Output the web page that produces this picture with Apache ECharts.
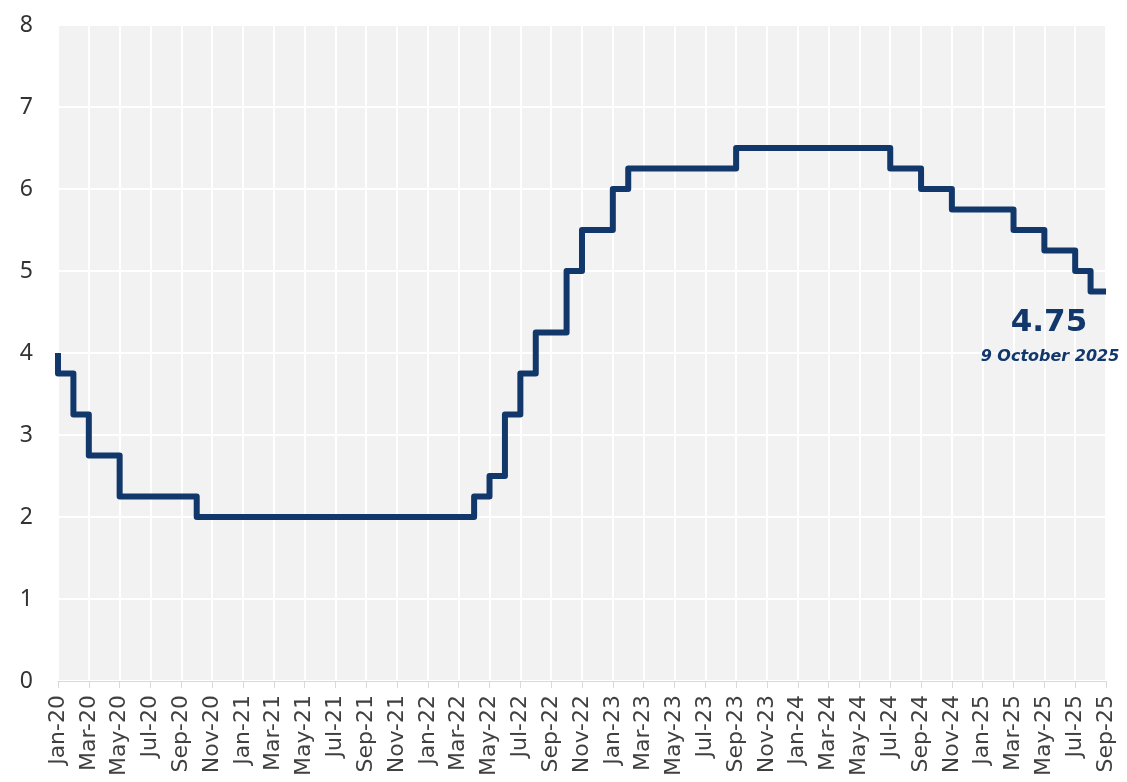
<!DOCTYPE html>
<html>
<head>
<meta charset="utf-8">
<script src="https://cdn.jsdelivr.net/npm/echarts@6/dist/echarts.min.js"></script>
<style>
html,body{margin:0;padding:0;background:#fff;}
#chart{width:1127px;height:782px;}
</style>
</head>
<body>
<div id="chart"></div>
<script>
// Monthly categories (Jan-20 .. Sep-25)
const months = [
  'Jan-20','Feb-20','Mar-20','Apr-20','May-20','Jun-20','Jul-20','Aug-20','Sep-20','Oct-20','Nov-20','Dec-20',
  'Jan-21','Feb-21','Mar-21','Apr-21','May-21','Jun-21','Jul-21','Aug-21','Sep-21','Oct-21','Nov-21','Dec-21',
  'Jan-22','Feb-22','Mar-22','Apr-22','May-22','Jun-22','Jul-22','Aug-22','Sep-22','Oct-22','Nov-22','Dec-22',
  'Jan-23','Feb-23','Mar-23','Apr-23','May-23','Jun-23','Jul-23','Aug-23','Sep-23','Oct-23','Nov-23','Dec-23',
  'Jan-24','Feb-24','Mar-24','Apr-24','May-24','Jun-24','Jul-24','Aug-24','Sep-24','Oct-24','Nov-24','Dec-24',
  'Jan-25','Feb-25','Mar-25','Apr-25','May-25','Jun-25','Jul-25','Aug-25','Sep-25'
];
// Policy rate (%) by month
const rate2020 = [4.0, 3.75, 3.25, 2.75, 2.75, 2.25, 2.25, 2.25, 2.25, 2.25, 2.0, 2.0];
const rate2021 = [2.0, 2.0, 2.0, 2.0, 2.0, 2.0, 2.0, 2.0, 2.0, 2.0, 2.0, 2.0];
const rate2022 = [2.0, 2.0, 2.0, 2.0, 2.25, 2.5, 3.25, 3.75, 4.25, 4.25, 5.0, 5.5];
const rate2023 = [5.5, 6.0, 6.25, 6.25, 6.25, 6.25, 6.25, 6.25, 6.25, 6.5, 6.5, 6.5];
const rate2024 = [6.5, 6.5, 6.5, 6.5, 6.5, 6.5, 6.5, 6.25, 6.25, 6.0, 6.0, 5.75];
const rate2025 = [5.75, 5.75, 5.75, 5.5, 5.5, 5.25, 5.25, 5.0, 4.75];
const yTicks = [0, 1, 2, 3, 4, 5, 6, 7, 8];
const latestValue = '4.75';
const latestDate = '9 October 2025';

const rates = [].concat(rate2020, rate2021, rate2022, rate2023, rate2024, rate2025);
const navy = '#12386b';

const chart = echarts.init(document.getElementById('chart'));
chart.setOption({
  animation: false,
  grid: {
    left: 58, right: 21, top: 25, bottom: 101,
    show: true, backgroundColor: '#f2f2f2', borderWidth: 0
  },
  xAxis: {
    type: 'category',
    data: months,
    boundaryGap: false,
    axisLine: { show: true, lineStyle: { color: '#d9d9d9', width: 1 } },
    axisTick: { show: true, interval: 1, length: 7, lineStyle: { color: '#d9d9d9' } },
    axisLabel: {
      interval: 1, rotate: 90, margin: 14,
      fontFamily: 'DejaVu Sans', fontSize: 22, color: '#404040'
    },
    splitLine: { show: true, interval: 1, lineStyle: { color: '#ffffff', width: 2 } }
  },
  yAxis: {
    type: 'value',
    min: yTicks[0], max: yTicks[yTicks.length - 1], interval: 1,
    axisLine: { show: false },
    axisTick: { show: false },
    axisLabel: {
      margin: 25, fontFamily: 'Noto Sans', fontSize: 23, color: '#333333'
    },
    splitLine: { show: true, lineStyle: { color: '#ffffff', width: 2 } }
  },
  series: [{
    type: 'line',
    step: 'start',
    data: rates,
    symbol: 'none',
    lineStyle: { color: navy, width: 6, join: 'round' },
    markPoint: {
      symbol: 'circle', symbolSize: 0,
      data: [
        {
          coord: [months[months.length - 1], rates[rates.length - 1]],
          label: {
            show: true, formatter: latestValue, position: 'inside', offset: [-57, 31],
            fontFamily: 'DejaVu Sans', fontWeight: 'bold', fontSize: 31, color: navy
          }
        },
        {
          coord: [months[months.length - 1], rates[rates.length - 1]],
          label: {
            show: true, formatter: latestDate, position: 'inside', offset: [-56, 65],
            fontFamily: 'DejaVu Sans', fontWeight: 'bold', fontStyle: 'italic', fontSize: 16, color: navy
          }
        }
      ]
    }
  }]
});
</script>
</body>
</html>
